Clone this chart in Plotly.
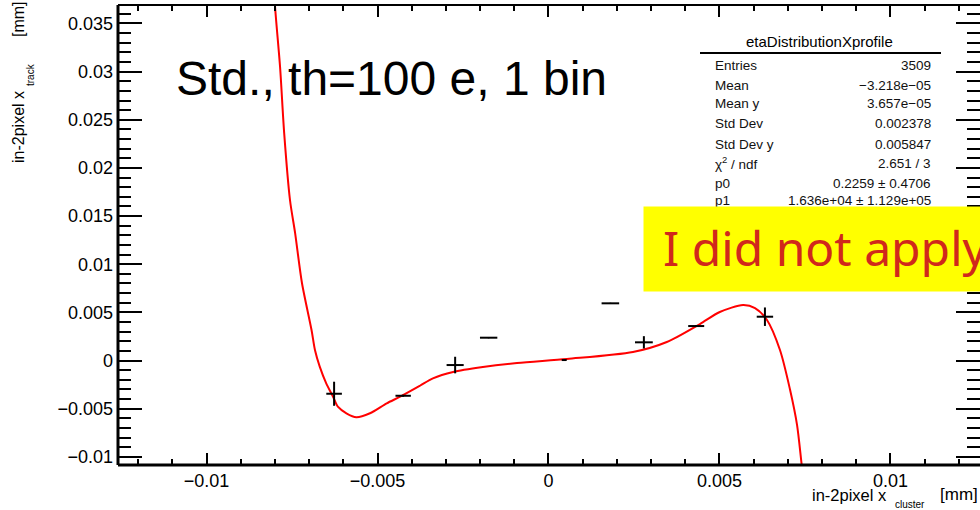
import plotly.graph_objects as go

# Profile points: bin position, mean track position, and errors
pt_x = [-0.00627, -0.00425, -0.00273, -0.00175, 0.00046, 0.00181, 0.00279, 0.00432, 0.00633]
pt_y = [-0.00345, -0.00366, -0.00047, 0.00237, 0.00005, 0.00594, 0.00189, 0.00358, 0.00455]
pt_ex = [0.000228, 0.000225, 0.00025, 0.000254, 0.000073, 0.000257, 0.00026, 0.000234, 0.00024]
pt_ey = [0.00125, 0.0001, 0.00086, 0.00005, 0.0, 0.00005, 0.00064, 0.0001, 0.00096]

# Fitted polynomial, sampled along the curve
fit_x = [-0.00803, -0.00800, -0.00785, -0.00773, -0.00756, -0.00741, -0.00721, -0.00693,
         -0.00683, -0.00669, -0.00650, -0.00630, -0.00616, -0.00591, -0.00562, -0.00522,
         -0.00473, -0.00434, -0.00376, -0.00338, -0.00279, -0.00192, -0.00092, 0.00054,
         0.00247, 0.00346, 0.00443, 0.00501, 0.00569, 0.00604, 0.00639, 0.00677, 0.00706,
         0.00727, 0.00741, 0.00747]
fit_y = [0.03951, 0.03692, 0.03048, 0.02362, 0.01667, 0.01324, 0.00805, 0.00317,
         0.00109, -0.00064, -0.00237, -0.00376, -0.00480, -0.00548, -0.00590, -0.00548,
         -0.00444, -0.00376, -0.00262, -0.00185, -0.00119, -0.00068, -0.00026, 0.00016,
         0.00088, 0.00192, 0.00379, 0.00504, 0.00576, 0.00545, 0.00421, 0.00109, -0.00296,
         -0.00670, -0.01096, -0.01241]

x_ticks = [-0.01, -0.005, 0, 0.005, 0.01]
x_ticklabels = ["\u22120.01", "\u22120.005", "0", "0.005", "0.01"]
y_ticks = [-0.01, -0.005, 0, 0.005, 0.01, 0.015, 0.02, 0.025, 0.03, 0.035]
y_ticklabels = ["\u22120.01", "\u22120.005", "0", "0.005", "0.01", "0.015", "0.02", "0.025", "0.03", "0.035"]

stat_title = "etaDistributionXprofile"
stat_names = ["Entries", "Mean", "Mean y", "Std Dev", "Std Dev y", "\u03c7<sup>2</sup> / ndf", "p0", "p1"]
stat_values = ["3509", "\u22123.218e\u221205", "3.657e\u221205", "0.002378", "0.005847",
               "2.651 / 3", "0.2259 \u00b1 0.4706", "1.636e+04 \u00b1 1.129e+05"]

W, H = 980, 510
L, R, T, B = 118, 980, 5, 465
FONT = "Liberation Sans, Arial, Helvetica, sans-serif"


def px(xp):
    return (xp - L) / (R - L)


def py(yp):
    return (B - yp) / (B - T)


fig = go.Figure()

fig.add_trace(go.Scatter(
    x=fit_x, y=fit_y, mode="lines",
    line=dict(color="#ff0000", width=2, shape="spline", smoothing=0.8),
    hoverinfo="skip", showlegend=False,
))

fig.add_trace(go.Scatter(
    x=pt_x, y=pt_y, mode="markers",
    marker=dict(size=1, color="black"),
    error_x=dict(type="data", array=pt_ex, thickness=2, width=0, color="black"),
    error_y=dict(type="data", array=pt_ey, thickness=2, width=0, color="black"),
    showlegend=False,
))

axis_common = dict(
    ticks="inside", tickwidth=2, tickcolor="black",
    showgrid=False, zeroline=False, showline=False, mirror="ticks",
    tickfont=dict(family=FONT, size=18, color="black"),
)

fig.update_layout(
    width=W, height=H,
    margin=dict(l=L, r=W - R, t=T, b=H - B),
    paper_bgcolor="white", plot_bgcolor="white",
    xaxis=dict(range=[-0.01259, 0.01262], tickmode="array", tickvals=x_ticks,
               ticktext=x_ticklabels, ticklen=12, ticklabelstandoff=3,
               minor=dict(dtick=0.001, tick0=0, ticklen=6, tickwidth=2,
                          tickcolor="black", ticks="inside", showgrid=False),
               **axis_common),
    yaxis=dict(range=[-0.01085, 0.03692], tickmode="array", tickvals=y_ticks,
               ticktext=y_ticklabels, ticklen=24, ticklabelstandoff=4,
               minor=dict(dtick=0.001, tick0=0, ticklen=13, tickwidth=2,
                          tickcolor="black", ticks="inside", showgrid=False),
               **axis_common),
)

# frame lines (left, bottom, top)
for x0, y0, x1, y1, w in [(0, 0, 0, 1, 3), (0, 0, 1, 0, 3), (0, 1, 1, 1, 2)]:
    fig.add_shape(type="line", xref="paper", yref="paper", x0=x0, y0=y0, x1=x1, y1=y1,
                  line=dict(color="black", width=w), layer="above")

ann = []
# x axis title: main text, subscript, unit
ann.append(dict(text="in-2pixel x", x=px(889), y=py(495), xanchor="right", yanchor="middle",
                font=dict(family=FONT, size=16.5, color="black")))
ann.append(dict(text="cluster", x=px(910), y=py(504), xanchor="center", yanchor="middle",
                font=dict(family=FONT, size=10, color="black")))
ann.append(dict(text="[mm]", x=px(980), y=py(494), xanchor="right", yanchor="middle",
                font=dict(family=FONT, size=17, color="black")))
# y axis title, rotated
ann.append(dict(text="in-2pixel x", x=px(18), y=py(127), xanchor="center", yanchor="middle",
                textangle=-90, font=dict(family=FONT, size=16, color="black")))
ann.append(dict(text="track", x=px(30), y=py(75), xanchor="center", yanchor="middle",
                textangle=-90, font=dict(family=FONT, size=10, color="black")))
ann.append(dict(text="[mm]", x=px(18), y=py(19), xanchor="center", yanchor="middle",
                textangle=-90, font=dict(family=FONT, size=16, color="black")))

# plot label
ann.append(dict(text="Std., th=100 e, 1 bin", x=px(174), y=py(79),
                xanchor="left", yanchor="middle",
                font=dict(family=FONT, size=48, color="black")))

# statistics box
ann.append(dict(text=stat_title, x=px(819), y=py(41), xanchor="center", yanchor="middle",
                font=dict(family=FONT, size=15, color="black")))
row_y = [65, 85.5, 103, 124, 144, 163, 183, 200]
for name, val, yy in zip(stat_names, stat_values, row_y):
    ann.append(dict(text=name, x=px(713), y=py(yy), xanchor="left", yanchor="middle",
                    font=dict(family=FONT, size=13.5, color="#111111")))
    ann.append(dict(text=val, x=px(933), y=py(yy), xanchor="right", yanchor="middle",
                    font=dict(family=FONT, size=13.5, color="#111111")))

# yellow notice
ann.append(dict(text=" ", x=px(643), y=py(205.5), xanchor="left", yanchor="top",
                width=420, height=84, bgcolor="#ffff00", borderpad=0))
ann.append(dict(text="I did not apply", x=px(661), y=py(248), xanchor="left",
                yanchor="middle",
                font=dict(family="Noto Sans, sans-serif", size=48, color="#d0281c")))

for a in ann:
    a.setdefault("xref", "paper")
    a.setdefault("yref", "paper")
    a.setdefault("showarrow", False)
    fig.add_annotation(**a)

fig.add_shape(type="line", xref="paper", yref="paper", x0=px(700), x1=px(941),
              y0=py(53), y1=py(53), line=dict(color="black", width=2), layer="above")

fig.write_html("out.html")
